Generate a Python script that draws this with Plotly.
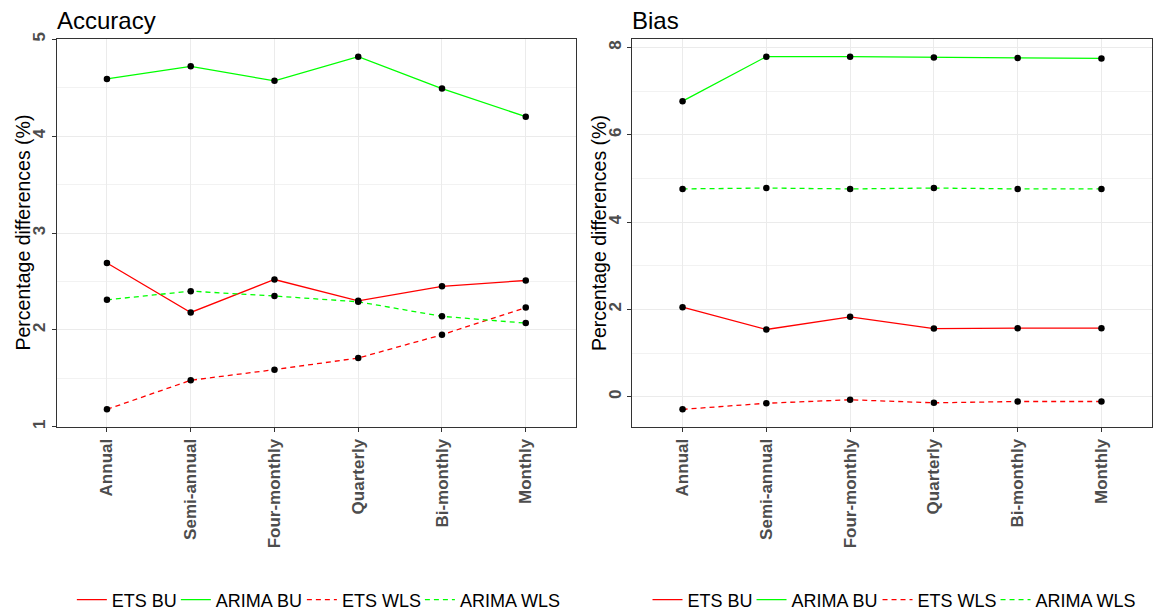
import plotly.graph_objects as go

categories = ["Annual", "Semi-annual", "Four-monthly", "Quarterly", "Bi-monthly", "Monthly"]
series_names = ["ETS BU", "ARIMA BU", "ETS WLS", "ARIMA WLS"]
series_colors = ["#FF0000", "#00FF00", "#FF0000", "#00FF00"]
series_dash = ["solid", "solid", "5px,4px", "5px,4px"]

# Accuracy panel
acc_ets_bu = [2.69, 2.18, 2.52, 2.30, 2.45, 2.51]
acc_arima_bu = [4.59, 4.72, 4.57, 4.82, 4.49, 4.20]
acc_ets_wls = [1.18, 1.48, 1.59, 1.71, 1.95, 2.23]
acc_arima_wls = [2.31, 2.40, 2.35, 2.29, 2.14, 2.07]

# Bias panel
bias_ets_bu = [2.05, 1.54, 1.83, 1.56, 1.57, 1.57]
bias_arima_bu = [6.77, 7.79, 7.79, 7.77, 7.76, 7.75]
bias_ets_wls = [-0.29, -0.15, -0.07, -0.14, -0.11, -0.11]
bias_arima_wls = [4.76, 4.78, 4.76, 4.78, 4.76, 4.76]

panel_titles = ["Accuracy", "Bias"]
y_title = "Percentage differences (%)"

W, H = 1158, 611
FONT = "Liberation Sans, Arial, sans-serif"
LEG_SIZE = 18

# approximate Arial advance widths (em) to size legend entries compactly
_cw = {"E": .667, "T": .611, "S": .667, " ": .278, "B": .667, "U": .722, "A": .667,
       "R": .722, "I": .278, "M": .833, "W": .944, "L": .556}


def text_w(s):
    return sum(_cw.get(c, .6) for c in s) * LEG_SIZE


panels = [
    dict(series=[acc_ets_bu, acc_arima_bu, acc_ets_wls, acc_arima_wls],
         x0=56.7, x1=576.0, ylab_x=22.5, dtick=1, minor=0.5, legend="legend"),
    dict(series=[bias_ets_bu, bias_arima_bu, bias_ets_wls, bias_arima_wls],
         x0=632.3, x1=1151.7, ylab_x=599.0, dtick=2, minor=1, legend="legend2"),
]
plot_top, plot_bottom = 39.0, 427.0

fig = go.Figure()
grid_col = "#EBEBEB"
tick_font = dict(family=FONT, size=17, color="#4D4D4D", weight="bold")

for i, p in enumerate(panels):
    sfx = "" if i == 0 else str(i + 1)
    xa, ya = "x" + sfx, "y" + sfx
    # lines
    for name, vals, col, dash in zip(series_names, p["series"], series_colors, series_dash):
        fig.add_trace(go.Scatter(
            x=categories, y=vals, mode="lines", name=name,
            line=dict(color=col, width=1.3, dash=dash),
            xaxis=xa, yaxis=ya, legend=p["legend"], showlegend=True,
            legendwidth=max(1, text_w(name) - 6)))
    # points on top
    for name, vals in zip(series_names, p["series"]):
        fig.add_trace(go.Scatter(
            x=categories, y=vals, mode="markers", name=name,
            marker=dict(color="black", size=6.5),
            xaxis=xa, yaxis=ya, showlegend=False, hoverinfo="skip"))

    allv = [v for s in p["series"] for v in s]
    lo, hi = min(allv), max(allv)
    pad = 0.05 * (hi - lo)
    dom_x = [p["x0"] / W, p["x1"] / W]
    dom_y = [(H - plot_bottom) / H, (H - plot_top) / H]
    axis_common = dict(showline=True, mirror=True, linecolor="#333333", linewidth=1,
                       ticks="outside", ticklen=4, tickcolor="#333333", tickwidth=1,
                       tickfont=tick_font, showgrid=True, gridcolor=grid_col, gridwidth=1,
                       zeroline=False, automargin=False)
    fig.update_layout(**{
        "xaxis" + sfx: dict(domain=dom_x, anchor=ya, type="category",
                            categoryorder="array", categoryarray=categories,
                            range=[-0.6, len(categories) - 0.4], tickangle=-90,
                            **axis_common),
        "yaxis" + sfx: dict(domain=dom_y, anchor=xa, range=[lo - pad, hi + pad],
                            dtick=p["dtick"], tick0=0, tickangle=-90,
                            minor=dict(dtick=p["minor"], tick0=0, showgrid=True,
                                       gridcolor="#F2F2F2", gridwidth=0.6, ticks=""),
                            **axis_common),
    })
    # panel title
    fig.add_annotation(text=panel_titles[i], xref="paper", yref="paper",
                       x=p["x0"] / W, y=(H - plot_top) / H, xanchor="left", yanchor="bottom",
                       xshift=-2, yshift=3, showarrow=False,
                       font=dict(family=FONT, size=24, color="black"))
    # y axis title
    fig.add_annotation(text=y_title, xref="paper", yref="paper",
                       x=p["ylab_x"] / W, y=(H - (plot_top + plot_bottom) / 2) / H,
                       xanchor="center", yanchor="middle", textangle=-90, showarrow=False,
                       font=dict(family=FONT, size=19.5, color="black"))

legend_common = dict(orientation="h", xanchor="center", yanchor="middle", y=11 / H,
                     font=dict(family=FONT, size=LEG_SIZE, color="black"),
                     itemwidth=30, bgcolor="rgba(0,0,0,0)", tracegroupgap=0)
fig.update_layout(
    width=W, height=H,
    margin=dict(l=0, r=0, t=0, b=0, autoexpand=False),
    paper_bgcolor="white", plot_bgcolor="white",
    legend=dict(x=((panels[0]["x0"] + panels[0]["x1"]) / 2) / W, **legend_common),
    legend2=dict(x=((panels[1]["x0"] + panels[1]["x1"]) / 2) / W, **legend_common),
)

fig.write_html("out.html", config={"displayModeBar": False},
               post_script="document.body.style.margin='0';document.body.style.overflow='hidden';")
